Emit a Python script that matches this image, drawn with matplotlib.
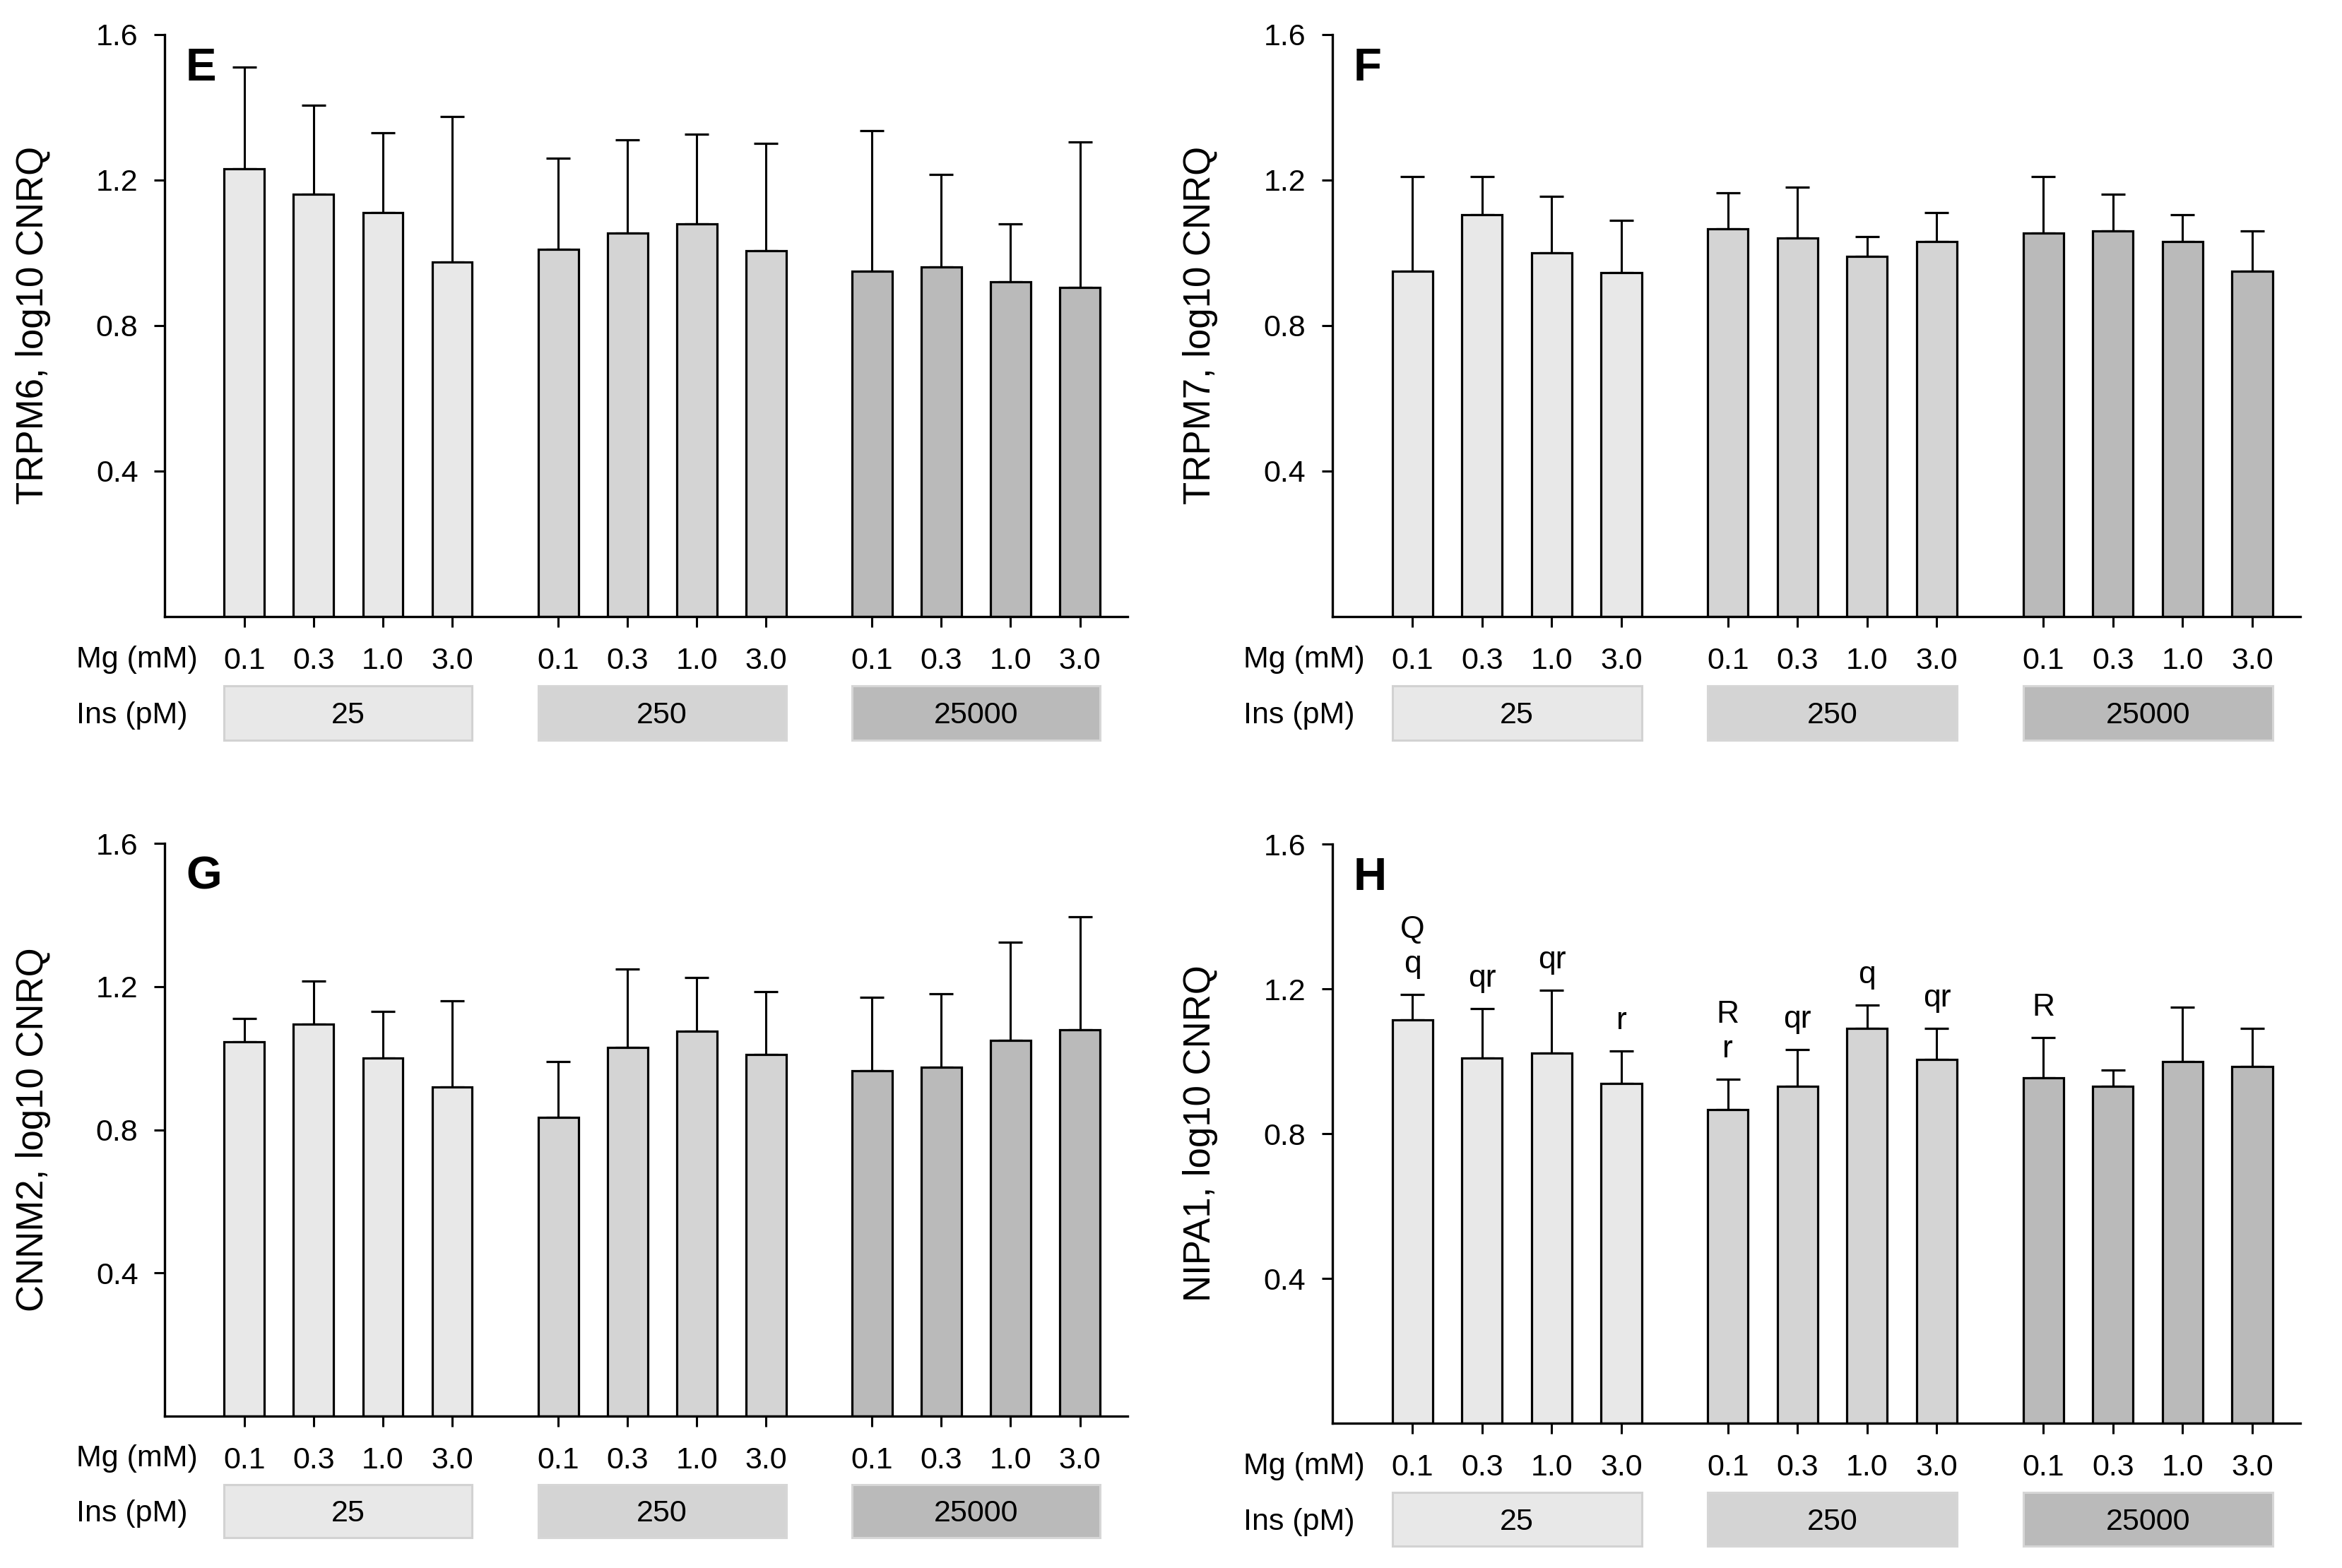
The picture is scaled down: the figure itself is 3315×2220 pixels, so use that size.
import matplotlib.pyplot as plt
from matplotlib.patches import Rectangle
from matplotlib.transforms import blended_transform_factory

plt.rcParams['font.family'] = ['Liberation Sans', 'DejaVu Sans']

mg_labels = ["0.1", "0.3", "1.0", "3.0"]
ins_labels = ["25", "250", "25000"]
group_colors = ["#e8e8e8", "#d4d4d4", "#bababa"]
box_edges = ["#d2d2d2", "#d6d6d6", "#d6d6d6"]

# bar means and top of the (upper only) error bars, 3 insulin groups x 4 Mg levels
trpm6_mean = [1.23, 1.16, 1.11, 0.975, 1.01, 1.055, 1.08, 1.005, 0.95, 0.96, 0.92, 0.905]
trpm6_top = [1.51, 1.405, 1.33, 1.375, 1.26, 1.31, 1.325, 1.30, 1.335, 1.215, 1.08, 1.305]

trpm7_mean = [0.95, 1.105, 1.0, 0.945, 1.065, 1.04, 0.99, 1.03, 1.055, 1.06, 1.03, 0.95]
trpm7_top = [1.21, 1.21, 1.155, 1.09, 1.165, 1.18, 1.045, 1.11, 1.21, 1.16, 1.105, 1.06]

cnnm2_mean = [1.045, 1.095, 1.0, 0.92, 0.835, 1.03, 1.075, 1.01, 0.965, 0.975, 1.05, 1.08]
cnnm2_top = [1.11, 1.215, 1.13, 1.16, 0.99, 1.25, 1.225, 1.185, 1.17, 1.18, 1.325, 1.395]

nipa1_mean = [1.114, 1.009, 1.022, 0.939, 0.866, 0.930, 1.091, 1.005, 0.955, 0.93, 1.0, 0.985]
nipa1_top = [1.184, 1.145, 1.196, 1.028, 0.950, 1.032, 1.155, 1.09, 1.065, 0.975, 1.15, 1.09]
nipa1_letters = ["Q\nq", "qr", "qr", "r", "R\nr", "qr", "q", "qr", "R", "", "", ""]

panels = [
    ("E", "TRPM6, log10 CNRQ", trpm6_mean, trpm6_top, None, [0.0703, 0.6068, 0.4112, 0.3712]),
    ("F", "TRPM7, log10 CNRQ", trpm7_mean, trpm7_top, None, [0.5689, 0.6068, 0.4133, 0.3712]),
    ("G", "CNNM2, log10 CNRQ", cnnm2_mean, cnnm2_top, None, [0.0703, 0.0968, 0.4112, 0.3653]),
    ("H", "NIPA1, log10 CNRQ", nipa1_mean, nipa1_top, nipa1_letters, [0.5689, 0.0923, 0.4133, 0.3694]),
]

width = 0.58
xpos = []
for g in range(3):
    for i in range(4):
        xpos.append(g * 4.53 + i)

fig = plt.figure(figsize=(33.15, 22.2), dpi=100)

for letter, ylabel, means, tops, notes, rect in panels:
    ax = fig.add_axes(rect)
    colors = [group_colors[k // 4] for k in range(12)]
    errs = [t - m for t, m in zip(tops, means)]
    ax.bar(xpos, means, width=width, color=colors, edgecolor="black", linewidth=2.3, zorder=2)
    ax.errorbar(xpos, means, yerr=[[0] * 12, errs], fmt="none", ecolor="black",
                elinewidth=2.2, capsize=12, capthick=2.3, zorder=1)

    ax.set_xlim(-1.15, 12.75)
    ax.set_ylim(0, 1.6)
    ax.set_yticks([0.4, 0.8, 1.2, 1.6])
    ax.set_yticklabels(["0.4", "0.8", "1.2", "1.6"])
    ax.set_xticks(xpos)
    ax.set_xticklabels(mg_labels * 3)
    for s in ["top", "right"]:
        ax.spines[s].set_visible(False)
    for s in ["left", "bottom"]:
        ax.spines[s].set_linewidth(2.4)
    ax.tick_params(axis="y", length=11, width=2.2, labelsize=31, pad=16)
    ax.tick_params(axis="x", length=11, width=2.2, labelsize=31, pad=20)
    ax.set_ylabel(ylabel, fontsize=38)
    ax.yaxis.set_label_coords(-0.118, 0.5)

    ax.text(0.022, 0.978, letter, transform=ax.transAxes, fontsize=47,
            fontweight="bold", ha="left", va="top")

    ax.text(-0.092, -0.074, "Mg (mM)", transform=ax.transAxes, fontsize=31,
            ha="left", va="center")
    ax.text(-0.092, -0.170, "Ins (pM)", transform=ax.transAxes, fontsize=31,
            ha="left", va="center")

    trans = blended_transform_factory(ax.transData, ax.transAxes)
    for g in range(3):
        x0 = xpos[g * 4] - width / 2
        x1 = xpos[g * 4 + 3] + width / 2
        ax.add_patch(Rectangle((x0, -0.212), x1 - x0, 0.093, transform=trans,
                               facecolor=group_colors[g], edgecolor=box_edges[g],
                               linewidth=2.2, clip_on=False))
        ax.text((x0 + x1) / 2, -0.170, ins_labels[g], transform=trans,
                fontsize=31, ha="center", va="center")

    if notes:
        for x, t, n in zip(xpos, tops, notes):
            if n:
                ax.annotate(n, (x, t), xytext=(0, 16), textcoords="offset points",
                            ha="center", va="bottom", fontsize=32, linespacing=1.25)

fig.savefig("out.png", dpi=100)
